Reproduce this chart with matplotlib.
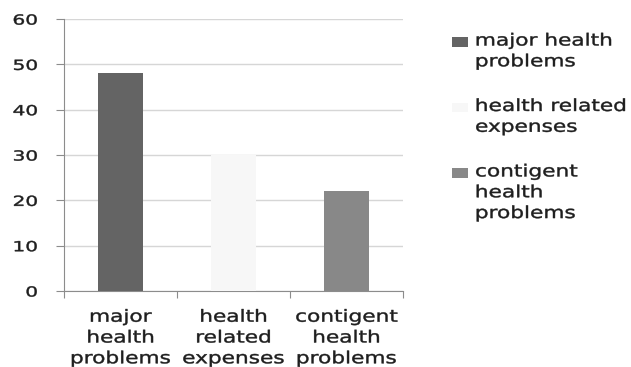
import numpy as np
import matplotlib.pyplot as plt
from matplotlib.patches import Patch, Rectangle
from matplotlib.patheffects import AbstractPathEffect
from matplotlib.transforms import Affine2D
from matplotlib.legend_handler import HandlerPatch

categories = ["major\nhealth\nproblems", "health\nrelated\nexpenses", "contigent\nhealth\nproblems"]
legend_labels = ["major health\nproblems", "health related\nexpenses", "contigent\nhealth\nproblems"]
values = [48, 30, 22]
colors = ["#646464", "#f7f7f7", "#888888"]


class Widen(AbstractPathEffect):
    """Stretch text horizontally about its left, centre or right edge,
    with a thin outline to thicken the strokes a little."""

    def __init__(self, sx, anchor="center", weight=0.3):
        super().__init__()
        self.sx = sx
        self.anchor = anchor
        self.weight = weight

    def draw_path(self, renderer, gc, tpath, affine, rgbFace=None):
        bb = tpath.get_extents(affine)
        x0 = {"left": bb.x0, "center": (bb.x0 + bb.x1) / 2, "right": bb.x1}[self.anchor]
        stretch = Affine2D().translate(-x0, 0).scale(self.sx, 1).translate(x0, 0)
        gc0 = renderer.new_gc()
        gc0.copy_properties(gc)
        gc0.set_linewidth(self.weight)
        gc0.set_foreground(rgbFace)
        renderer.draw_path(gc0, tpath, affine + stretch, rgbFace)
        gc0.restore()


def top_square(legend, orig_handle, xdescent, ydescent, width, height, fontsize):
    # move the swatch up to sit beside the first line of a multi-line label
    n = orig_handle.get_label().count("\n") + 1
    shift = (n - 1) / 2 * 1.2 * fontsize
    return Rectangle((-xdescent, -ydescent + shift), width, height)


plt.rcParams["font.family"] = "DejaVu Sans"

fig = plt.figure(figsize=(6.31, 3.67), dpi=100)
ax = fig.add_axes([0.1014, 0.207, 0.537, 0.741])

x = np.arange(len(values))
ax.bar(x, values, width=0.4, color=colors, zorder=3)

ax.set_ylim(0, 60)
ax.set_xlim(-0.5, 2.5)
ax.set_yticks(range(0, 61, 10))
ax.yaxis.grid(True, color="#d6d6d6", linewidth=1, zorder=0)

ax.set_xticks([-0.5, 0.5, 1.5, 2.5])
ax.set_xticklabels([])
ax.set_xticks(x, minor=True)
ax.set_xticklabels(categories, minor=True, fontsize=12, color="#1e1e1e")
ax.tick_params(axis="x", which="minor", length=0, pad=12)
ax.tick_params(axis="x", which="major", length=5, color="#8c8c8c", direction="out")
ax.tick_params(axis="y", length=6, color="#8c8c8c", labelsize=10, labelcolor="#1e1e1e", pad=13)

for side in ["top", "right"]:
    ax.spines[side].set_visible(False)
for side in ["left", "bottom"]:
    ax.spines[side].set_color("#8c8c8c")

plt.setp(ax.get_yticklabels(), path_effects=[Widen(1.45, "right")])
plt.setp(ax.get_xticklabels(minor=True), path_effects=[Widen(1.3, "center")])

handles = [Patch(facecolor=c, edgecolor="none", label=l) for c, l in zip(colors, legend_labels)]
leg = fig.legend(handles, legend_labels, loc="upper left", bbox_to_anchor=(0.693, 0.955),
                 frameon=False, fontsize=12, labelspacing=1.6, handlelength=0.96,
                 handleheight=0.54, handletextpad=0.42, labelcolor="#1e1e1e",
                 handler_map={Patch: HandlerPatch(patch_func=top_square)})
plt.setp(leg.get_texts(), path_effects=[Widen(1.3, "left")])

fig.savefig("out.png", dpi=100)
